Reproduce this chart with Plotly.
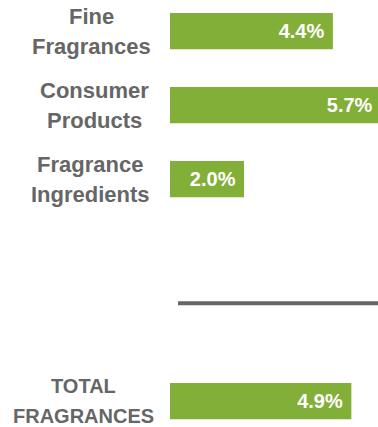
import plotly.graph_objects as go

categories = ["Fine Fragrances", "Consumer Products", "Fragrance Ingredients", "TOTAL FRAGRANCES"]
label_lines = [["Fine", "Fragrances"], ["Consumer", "Products"], ["Fragrance", "Ingredients"], ["TOTAL", "FRAGRANCES"]]
values = [4.4, 5.7, 2.0, 4.9]
slots = [0, 1, 2, 5]
value_labels = ["4.4%", "5.7%", "2.0%", "4.9%"]
label_xshift = [-79, -76, -80, -87]

GREEN = "#82AF37"
GRAY = "#666666"
FONT = "Liberation Sans, Arial, sans-serif"

fig = go.Figure()
fig.add_trace(go.Bar(
    x=values, y=slots, orientation="h",
    width=0.49,
    marker=dict(color=GREEN, line=dict(width=0)),
    text=[t + "\u00a0" for t in value_labels],
    textposition="inside", insidetextanchor="end",
    textfont=dict(family=FONT, size=20, color="white", weight="bold"),
    textangle=0,
    hoverinfo="skip",
))

annotations = []
for s, lines, cat, shift in zip(slots, label_lines, categories, label_xshift):
    is_total = cat.isupper()
    size = 20 if is_total else 22
    for k, line in enumerate(lines):
        annotations.append(dict(
            xref="paper", x=0, xanchor="center", xshift=shift,
            yref="y", y=s, yanchor="middle", yshift=(15 if k == 0 else -15),
            text="<b>" + line + "</b>", showarrow=False,
            font=dict(family=FONT, size=size, color=GRAY),
        ))

fig.update_layout(
    width=378, height=427,
    margin=dict(l=170, r=0, t=0, b=0),
    paper_bgcolor="white", plot_bgcolor="white",
    showlegend=False,
    xaxis=dict(range=[0, 5.62], visible=False, fixedrange=True),
    yaxis=dict(range=[5.351, -0.419], visible=False, fixedrange=True),
    annotations=annotations,
    shapes=[dict(type="line", xref="paper", x0=8 / 208, x1=1, yref="y", y0=3.68, y1=3.68,
                 line=dict(color=GRAY, width=4))],
)

fig.write_html("out.html")
